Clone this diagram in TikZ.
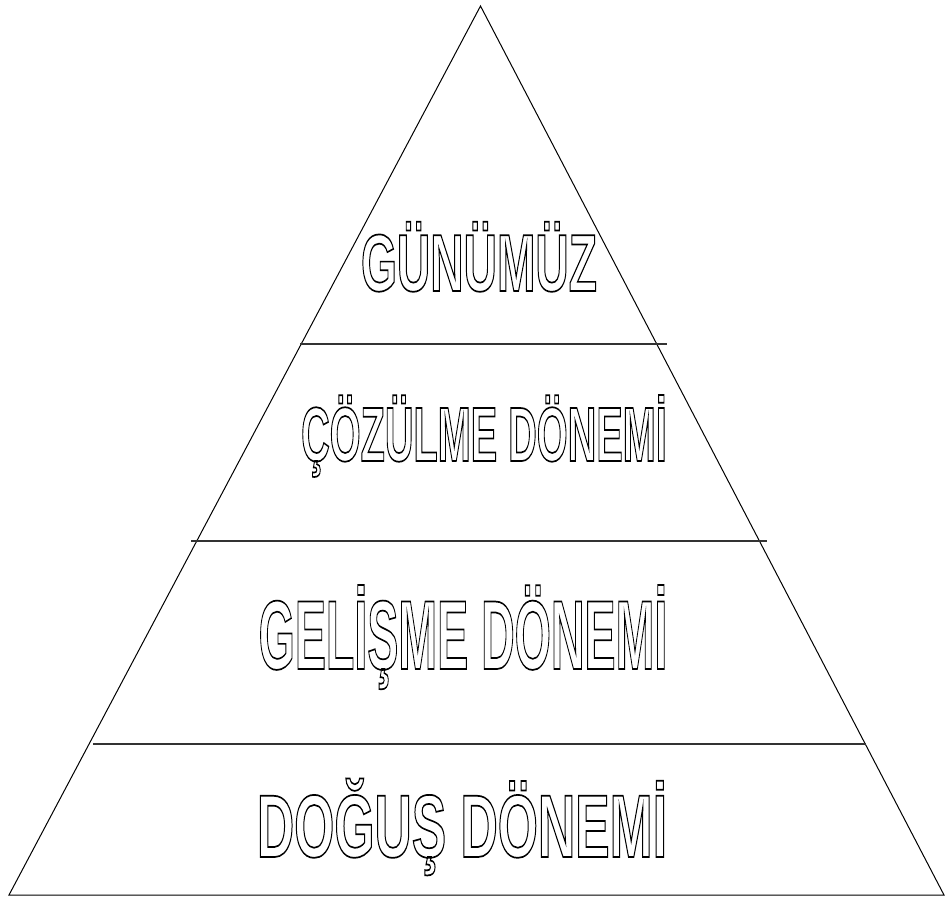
\documentclass[tikz,border=0pt]{standalone}
\usepackage{fontspec}
\setmainfont{Liberation Sans}
\tikzset{
  edge/.style={line width=1pt, black},
  band/.style={line width=1.2pt, black!80},
  lbl/.style={anchor=base, inner sep=0pt, outer sep=0pt}
}
\newcommand{\hollow}[3]{%
  \scalebox{#2}[1]{\fontsize{#1}{#1}\bfseries
  \special{pdf:literal direct 1 Tr 1.7 w}#3\special{pdf:literal direct 0 Tr}}}
\begin{document}
\begin{tikzpicture}[x=1pt,y=-1pt]
\useasboundingbox (0,0) rectangle (946,900);
\coordinate (apex) at (480.5,6);
\coordinate (bl) at (9,895);
\coordinate (br) at (944,895);
\draw[edge, line join=miter] (apex) -- (bl) -- (br) -- cycle;
\coordinate (l1a) at (300,344); \coordinate (l1b) at (667,344);
\coordinate (l2a) at (191,541); \coordinate (l2b) at (767,541);
\coordinate (l3a) at (93,744);  \coordinate (l3b) at (866,744);
\draw[band] (l1a) -- (l1b);
\draw[band] (l2a) -- (l2b);
\draw[band] (l3a) -- (l3b);
\node[lbl] (t1) at (479,291) {\hollow{81}{0.57}{GÜNÜMÜZ}};
\node[lbl] (t2) at (484,461) {\hollow{77}{0.515}{ÇÖZÜLME DÖNEMİ}};
\node[lbl] (t3) at (463,669) {\hollow{98}{0.475}{GELİŞME DÖNEMİ}};
\node[lbl] (t4) at (462,857) {\hollow{89}{0.58}{DOĞUŞ DÖNEMİ}};
\end{tikzpicture}
\end{document}
